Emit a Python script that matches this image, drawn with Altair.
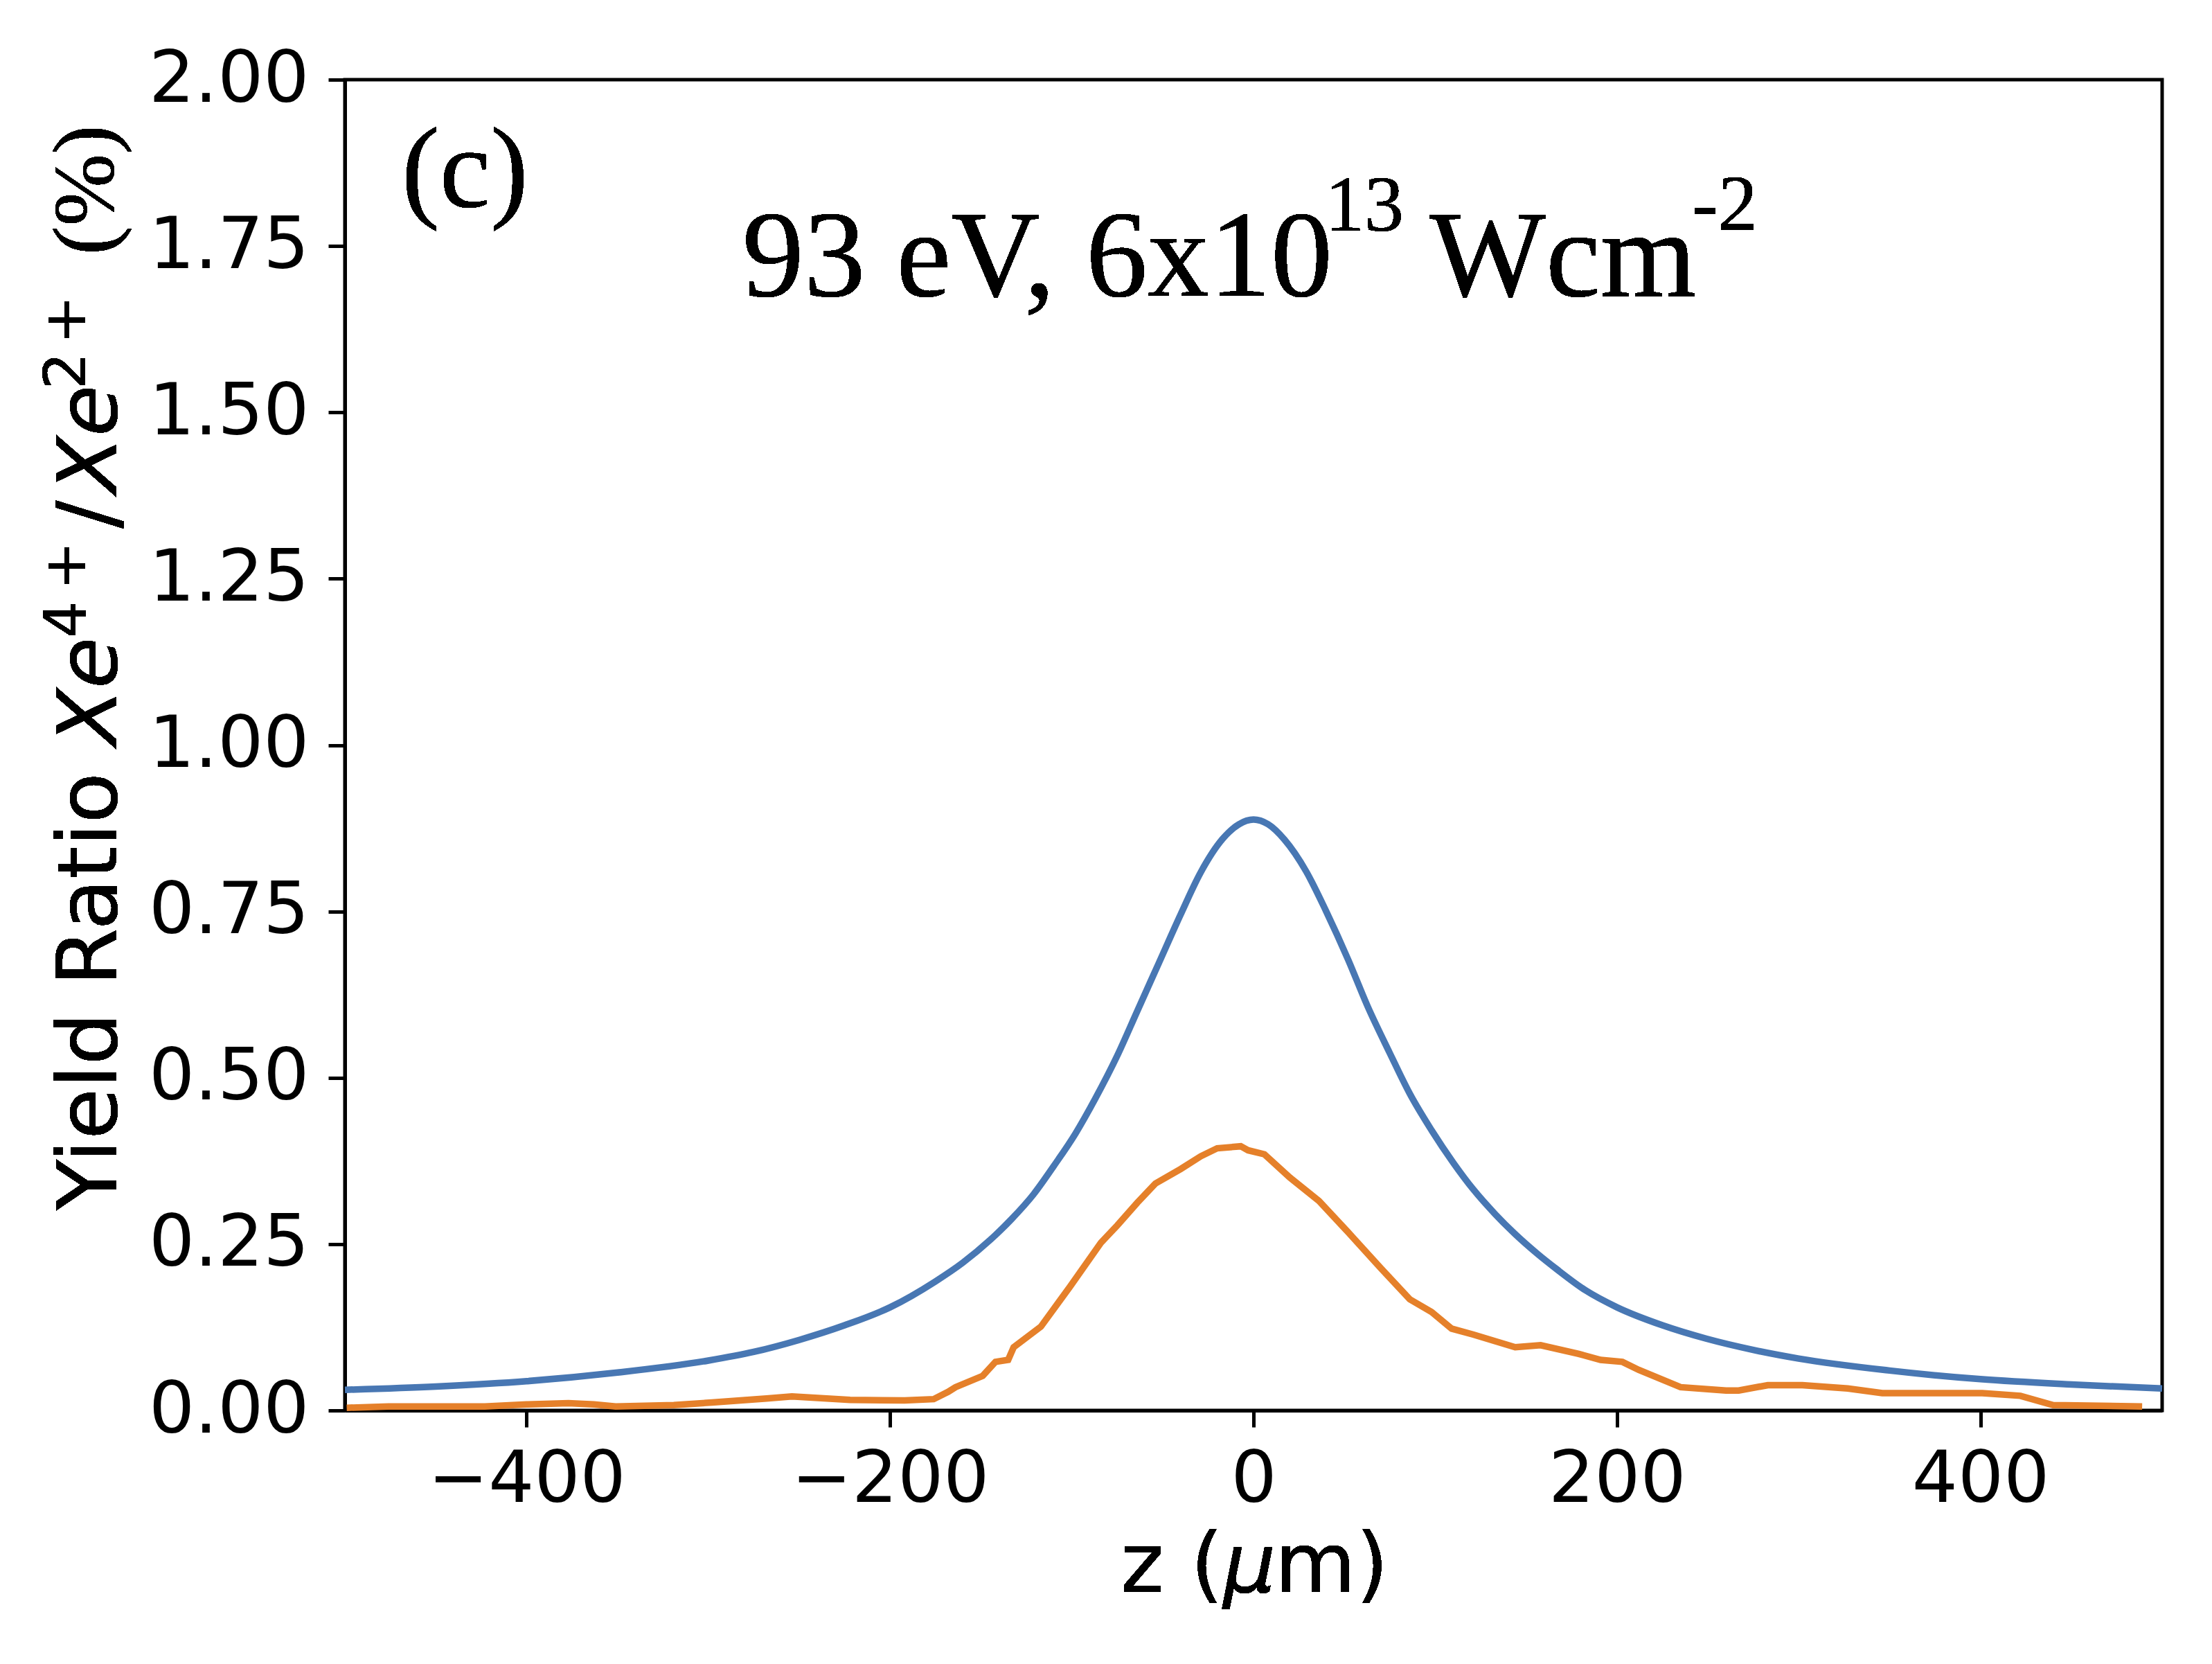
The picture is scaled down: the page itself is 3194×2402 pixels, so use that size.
import altair as alt
import pandas as pd

# ---- data ----
blue_z = [-500, -450, -400, -350, -300, -275, -250, -225, -200, -175, -160, -145, -133,
          -121, -110, -98, -87, -75, -64, -52, -40, -29, -17, -8, 0, 8, 17, 29, 40, 52,
          63, 75, 86, 98, 110, 121, 133, 144, 156, 167, 183, 200, 225, 249, 275, 300, 350, 400, 450, 500]
blue_v = [0.031, 0.036, 0.044, 0.057, 0.075, 0.088, 0.106, 0.128, 0.155, 0.194, 0.222, 0.256, 0.288,
          0.325, 0.367, 0.416, 0.469, 0.533, 0.600, 0.673, 0.746, 0.809, 0.859, 0.881, 0.888, 0.881, 0.858, 0.810, 0.750, 0.678,
          0.606, 0.537, 0.476, 0.421, 0.372, 0.332, 0.295, 0.265, 0.236, 0.212, 0.180, 0.155, 0.128, 0.108, 0.091, 0.078, 0.060, 0.047, 0.039, 0.033]

orange_z = [-499, -476, -423, -400, -377, -363, -351, -319, -298, -268, -254, -222, -192, -176,
            -168, -164, -149, -142, -135, -132, -117, -101, -84, -75, -64, -54, -40, -29, -20,
            -7, -3, 6, 20, 36, 52, 70, 86, 98, 109, 121, 144, 158, 179, 191, 203, 212, 235,
            260, 267, 283, 302, 327, 346, 401, 422, 440, 489]
orange_v = [0.004, 0.006, 0.006, 0.009, 0.011, 0.009, 0.006, 0.008, 0.012, 0.018, 0.021, 0.016, 0.015, 0.017,
            0.028, 0.035, 0.052, 0.073, 0.076, 0.095, 0.126, 0.186, 0.252, 0.278, 0.312, 0.341, 0.363, 0.382, 0.394,
            0.397, 0.391, 0.385, 0.350, 0.315, 0.268, 0.214, 0.167, 0.148, 0.123, 0.114, 0.095, 0.098, 0.085, 0.076, 0.073, 0.061, 0.035,
            0.030, 0.030, 0.038, 0.038, 0.033, 0.026, 0.026, 0.022, 0.008, 0.006]

x_ticks = [-400, -200, 0, 200, 400]
y_ticks = [0.0, 0.25, 0.5, 0.75, 1.0, 1.25, 1.5, 1.75, 2.0]

BLUE = "#4877b3"
ORANGE = "#e5802a"
W, H = 2624, 1921

blue_df = pd.DataFrame({"z": blue_z, "v": blue_v})
orange_df = pd.DataFrame({"z": orange_z, "v": orange_v})

common_axis = dict(labelFont="DejaVu Sans", labelFontSize=104, labelColor="black", labelLimit=2000,
                   tickSize=24, tickWidth=5, tickColor="black",
                   domainWidth=5, domainColor="black", grid=False, title=None)

x_enc = alt.X("z:Q", scale=alt.Scale(domain=[-500, 500], nice=False, zero=False),
              axis=alt.Axis(values=x_ticks, format="d", labelPadding=25, **common_axis))
y_enc = alt.Y("v:Q", scale=alt.Scale(domain=[0, 2], nice=False, zero=False),
              axis=alt.Axis(values=y_ticks, format=".2f", labelPadding=28, **common_axis))

blue = alt.Chart(blue_df).mark_line(color=BLUE, strokeWidth=9.5, interpolate="monotone").encode(x=x_enc, y=y_enc)
orange = alt.Chart(orange_df).mark_line(color=ORANGE, strokeWidth=9.5).encode(x=x_enc, y=y_enc)

layers = [blue, orange]

# in-plot annotations (data coordinates)
inplot = [
    ("(c)", -468.8, 1.8095, 165),
    ("93 eV, 6x10", -281.3, 1.6752, 178),
    ("13", 39.3, 1.7730, 114),
    ("Wcm", 96.8, 1.6752, 178),
    ("-2", 241.2, 1.7741, 114),
]
for txt, zx, vy, fs in inplot:
    layers.append(
        alt.Chart(blue_df).mark_text(text=txt, font="Liberation Serif", fontSize=fs, color="black",
                                     align="left", baseline="alphabetic")
        .encode(x=alt.datum(zx), y=alt.datum(vy))
    )

# y-axis title pieces (pixel positions relative to plot area)
ylab = [
    ("Yield Ratio", -330, 1632, 120, "DejaVu Sans", "normal"),
    ("Xe", -330, 961, 120, "DejaVu Sans", "italic"),
    ("4", -375, 806, 84, "DejaVu Sans", "normal"),
    ("+", -375, 737, 84, "DejaVu Sans", "normal"),
    ("/", -330, 648, 120, "DejaVu Sans", "normal"),
    ("Xe", -330, 597, 120, "DejaVu Sans", "italic"),
    ("2", -375, 447, 84, "DejaVu Sans", "normal"),
    ("+", -375, 382, 84, "DejaVu Sans", "normal"),
    ("(%)", -335, 253, 125, "Liberation Serif", "normal"),
]
for txt, px, py, fs, fnt, sty in ylab:
    layers.append(
        alt.Chart(blue_df).mark_text(text=txt, font=fnt, fontSize=fs, fontStyle=sty, color="black",
                                     angle=270, align="left", baseline="alphabetic")
        .encode(x=alt.value(px), y=alt.value(py))
    )

# x-axis title pieces
xlab = [
    ("z (", 1120, "normal"),
    ("\u03bc", 1268, "italic"),
    ("m)", 1343, "normal"),
]
for txt, px, sty in xlab:
    layers.append(
        alt.Chart(blue_df).mark_text(text=txt, font="DejaVu Sans", fontSize=120, fontStyle=sty, color="black",
                                     align="left", baseline="alphabetic")
        .encode(x=alt.value(px), y=alt.value(2183))
    )

chart = alt.layer(*layers).properties(
    width=W, height=H,
    autosize=alt.AutoSizeParams(type="none"),
    padding={"left": 490, "top": 107, "right": 64, "bottom": 350},
    background="white",
).configure_view(stroke="black", strokeWidth=5)

chart.save("out.html", embed_options={"renderer": "svg", "actions": False})
